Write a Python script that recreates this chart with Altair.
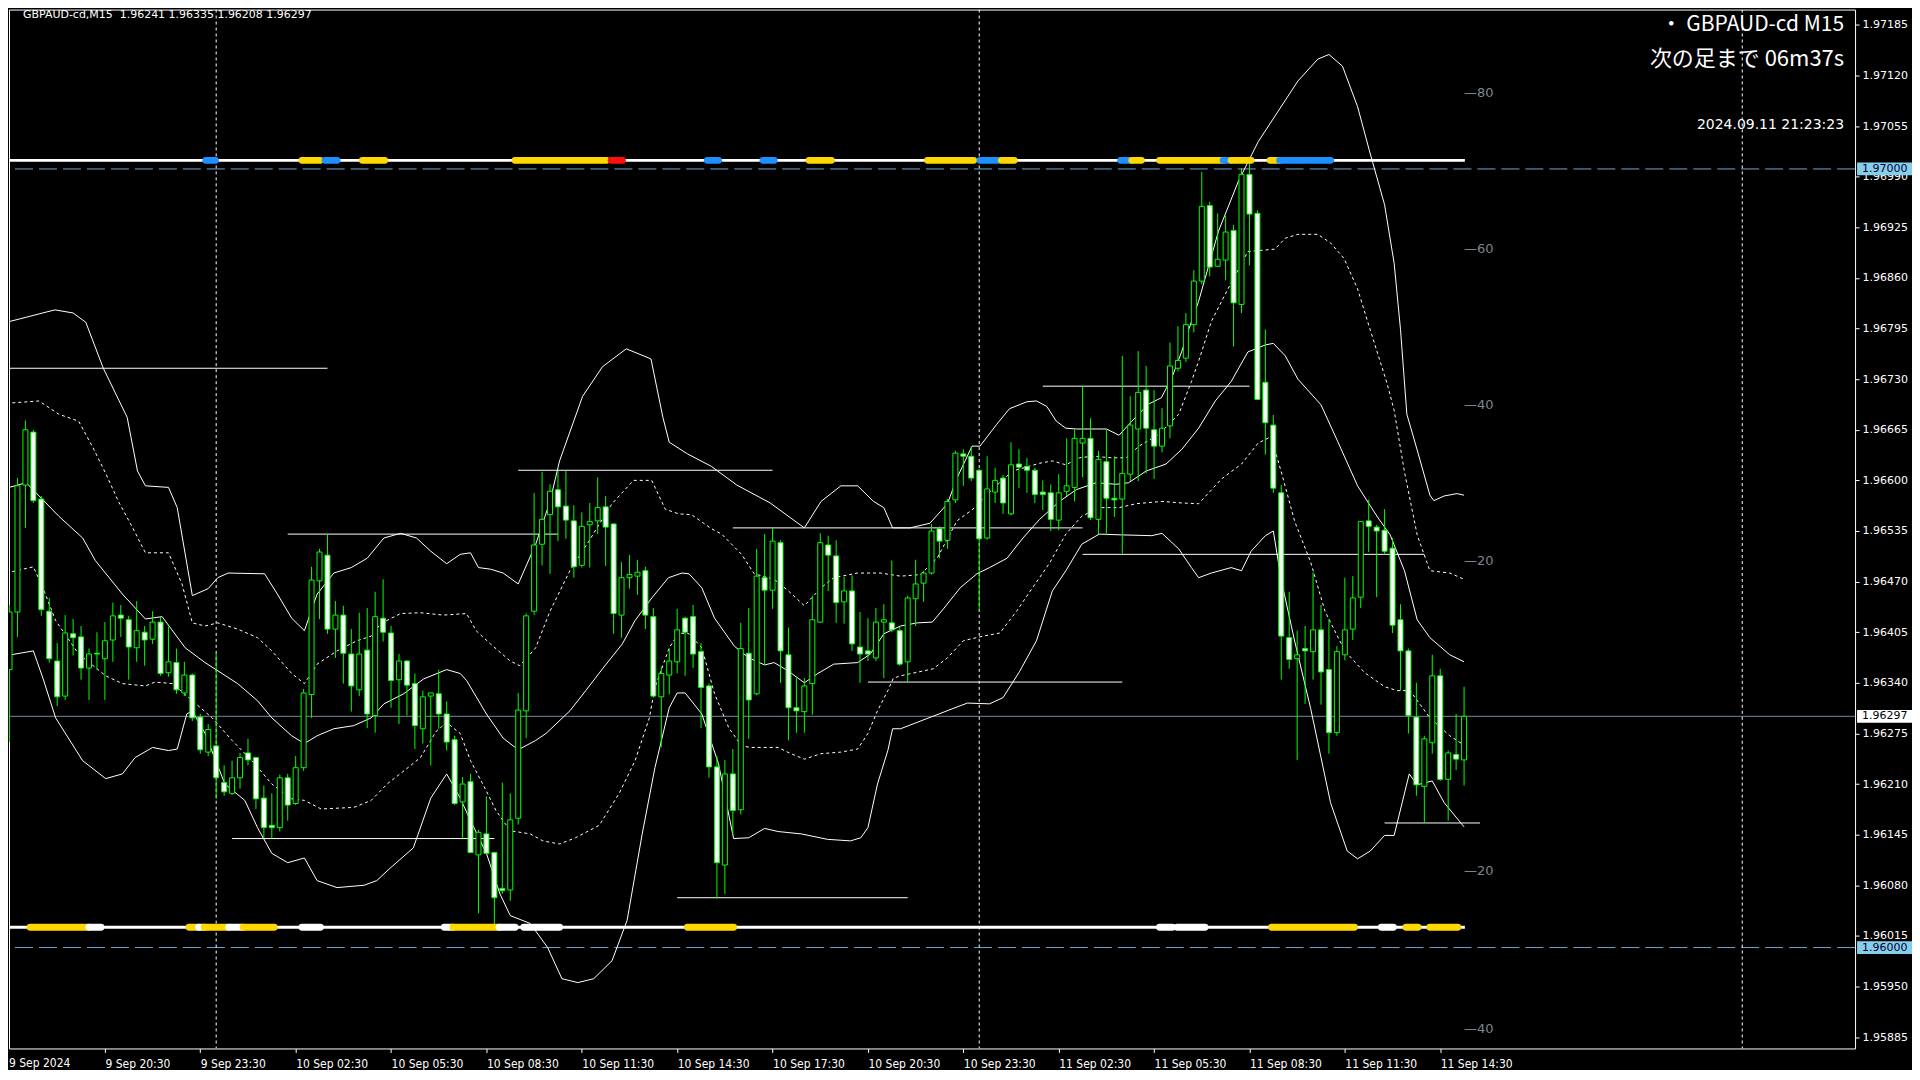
import altair as alt
import pandas as pd

BASE = 1.96000   # prices below are in points (0.00001) above 1.96000
PT = 0.00001

# ---- candles (M15, bar 0 = 9 Sep 17:30) ----
open_pts = [357,431,594,662,576,432,368,323,403,399, 359,378,371,395,427,421,385,405,396,418,
            353,366,327,350,296,251,259,212,198,218, 250,244,192,157,154,218,185,231,325,471,
            504,409,427,377,331,382,298,423,404,344, 368,339,281,323,326,300,267,187,213,119,
            146,122,76,74,166,304,432,518,556,588, 567,548,491,543,548,566,544,427,475,477,
            484,425,322,350,367,423,425,380,336,232, 106,223,177,378,326,475,459,520,376,308,
            303,339,418,517,503,444,458,386,381,372, 418,417,407,367,448,468,481,538,523,575,
            634,631,613,526,585,603,557,621,618,613, 585,584,549,586,591,648,654,550,624,577,
            576,608,666,716,665,644,670,744,757,800, 856,953,875,883,921,826,993,943,726,671,
            584,398,371,384,380,408,357,276,376,409, 450,548,540,536,513,421,381,296,207,263,
            349,216,248,241]
high_pts = [440,603,677,665,580,449,391,427,422,413, 384,405,418,443,440,426,445,413,432,425,
            412,384,367,352,300,287,378,234,240,250, 268,245,208,198,222,223,246,332,489,512,
            531,445,439,409,430,436,457,473,413,377, 369,352,330,327,357,316,272,219,223,151,
            194,123,212,198,327,429,584,611,595,612, 612,568,559,571,604,580,545,495,504,498,
            489,436,361,384,435,425,440,391,339,246, 241,255,417,436,512,531,539,523,411,346,
            346,452,532,529,523,476,478,431,423,436, 441,497,412,452,498,484,544,541,576,638,
            640,644,615,631,616,607,649,640,629,616, 600,595,608,654,665,721,680,638,665,631,
            760,708,766,747,716,693,777,798,815,870, 996,958,943,940,928,1001,1011,947,794,684,
            594,457,407,413,482,440,422,387,475,477, 547,575,543,563,526,441,384,340,272,376,
            358,253,300,335]
low_pts = [264,399,539,571,426,366,310,318,375,344, 318,357,318,367,399,344,367,362,390,349,
           348,326,323,291,249,246,191,195,196,204, 234,178,141,140,149,163,183,227,295,422,
           403,372,339,303,323,282,276,393,308,287, 298,255,262,234,281,253,183,140,121,44,
           120,26,69,60,158,269,427,491,480,522, 525,475,488,488,531,490,403,398,461,453,
           409,321,257,325,352,349,359,282,218,63, 69,144,171,268,324,363,435,340,266,276,
           276,299,417,458,417,416,381,340,368,368, 346,405,362,341,413,444,479,500,512,571,
           593,599,432,524,571,557,555,590,584,571, 562,535,536,580,573,604,549,531,530,553,
           506,599,599,609,602,636,654,740,752,790, 852,862,874,857,772,815,876,703,633,584,
           344,358,241,313,344,312,249,272,369,395, 436,508,450,506,404,330,275,195,160,249,
           214,163,228,208]
close_pts = [431,593,665,574,434,371,322,404,398,359, 377,377,394,426,423,386,407,395,418,352,
             367,331,350,295,254,280,218,200,218,244, 241,191,154,154,218,183,231,327,472,508,
             409,427,378,336,377,300,425,405,343,368, 337,285,322,327,300,264,185,210,122,148,
             121,64,73,164,305,426,517,550,586,566, 549,489,541,547,565,540,429,475,479,482,
             427,323,352,368,408,405,377,334,232,109, 223,176,384,318,477,459,522,381,308,304,
             336,421,520,504,443,458,390,377,377,418, 421,408,364,449,467,481,535,522,573,635,
             631,603,525,589,600,571,620,617,613,582, 582,550,584,593,654,654,552,627,577,575,
             609,671,713,667,644,667,747,754,800,856, 952,874,884,919,828,993,942,704,674,590,
             400,370,376,381,408,354,276,380,408,449, 547,541,535,509,414,381,298,209,268,349,
             216,250,242,297]

# ---- Bollinger-type band lines: (bar, points) ----
mid_line = [(-0.4,590),(2.1,597),(6.2,554),(9.2,526),(10.8,497),(14.2,454),(17.1,422),(19.2,425),
    (22.1,385),(24.6,366),(28.7,339),(31.2,317),(33,295),(35.5,272),(37.1,262),(38.7,272),(40.8,281),
    (43.3,285),(45.5,295),(47.1,313),(49.6,326),(52.1,345),(55,357),(56.7,352),(57.5,343),(60,300),
    (62.1,269),(64,254),(66.2,266),(67.5,275),(70.5,304),(72.5,330),(74.6,358),(77.1,390),(78.7,420),
    (80.8,449),(82.9,475),(84.6,481),(85.5,480),(87.1,462),(88.7,423),(91.2,387),(93,372),(95,363),
    (96.2,366),(98,355),(100,340),(101.7,352),(103.7,364),(106.7,366),(108.3,377),(110,403),(112.1,413),
    (114.2,417),(116.1,418),(117.5,435),(119.6,462),(121.7,480),(123.3,488),(125.5,500),(127.5,526),
    (129.6,550),(132.1,573),(134.2,588),(136.7,597),(139.2,595),(140.8,597),(143,612),(145.5,621),
    (147.5,640),(149.6,667),(151.7,702),(153.7,727),(155.8,765),(158,774),(159,776),(160.5,760),
    (162.1,730),(165,697),(167.1,650),(169.6,593),(172.1,553),(173.7,530),(175.5,484),(177.1,421),
    (178.7,398),(181.2,376),(183,367)]
upper1_line = [(-0.4,699),(3.7,702),(6.2,685),(8.7,676),(10.5,642),(12.1,609),(13.7,573),(15.5,539),
    (17.1,507),(20,507),(21.7,467),(23,417),(24.6,413),(26.2,417),(28.7,409),(31.2,398),(33,381),
    (35.5,352),(37.1,339),(38.7,364),(41.2,381),(43.7,394),(45.5,400),(46.7,416),(49.2,429),(51.7,430),
    (54.6,427),(57.5,429),(58.7,407),(60.5,390),(63,368),(64.2,362),(66.2,385),(68,432),(70.5,484),
    (72.9,522),(74.2,544),(75.8,570),(78.5,600),(80.8,600),(82.5,563),(84.2,557),(85.8,556),(88.3,538),
    (89.6,531),(92.1,505),(93.7,480),(96.2,473),(98,458),(100,439),(102.1,462),(103.7,475),(106.7,481),
    (109.6,481),(112.1,477),(114.6,479),(116.7,500),(119.2,548),(121.2,563),(123.7,589),(126.2,612),
    (129.6,622),(131.2,625),(132.9,620),(134.6,629),(136.2,631),(138.7,629),(140.5,629),(142.1,644),
    (144.6,659),(147.1,685),(148.7,727),(149.6,753),(151.2,804),(153.3,846),(155.8,894),(159.2,897),
    (160.5,911),(162.1,916),(164.6,916),(166.2,905),(167.9,885),(169.6,846),(171.2,793),(173.3,725),
    (174.2,690),(175.5,611),(177.1,530),(178.7,484),(181.2,481),(183,473)]
lower1_line = [(-0.4,481),(3,489),(4.2,462),(5.8,420),(8.7,377),(12.1,349),(14.2,339),(17.1,336),
    (18.3,341),(20.5,339),(23,317),(25.5,295),(28,266),(30.5,240),(33,210),(35.5,191),(37.1,189),
    (39.2,178),(43.3,180),(45.5,189),(47.5,210),(50,230),(51.7,244),(53.7,278),(55,289),(56.7,275),
    (58,240),(60,201),(61.2,176),(63,150),(65.5,146),(67.1,137),(69.2,133),(71.2,141),(74.2,157),
    (76.7,198),(78.7,240),(80.5,295),(81.2,334),(83,385),(84.2,404),(85.5,403),(87.1,385),(88.7,326),
    (90.5,282),(92.1,259),(93.3,257),(96.7,257),(98.3,249),(100,242),(102.1,249),(104.6,251),(106.7,255),
    (108,275),(109.2,304),(110.5,330),(111.2,346),(112.1,349),(116.2,358),(118,372),(120,394),
    (122.5,400),(124.6,404),(126.7,432),(128.7,462),(130.8,493),(132.9,531),(134.9,554),(137.1,565),
    (139.6,565),(141.7,570),(145,573),(147.5,571),(149.6,570),(152.5,602),(155,621),(157.1,648),
    (158.7,656),(160,611),(161.7,547),(163.7,495),(165.5,432),(168,381),(170.5,353),(173,335),
    (174.6,330),(176.2,330),(178.7,295),(181.2,272),(183,260)]
upper2_line = [(-0.4,803),(5.7,819),(8,815),(9.6,803),(11.8,744),(14.8,681),(16.1,612),(17.1,593),
    (20,591),(21.1,565),(23,452),(25,461),(26.2,475),(27.5,481),(32.1,480),(33.7,454),(35.5,423),
    (37.1,407),(38.7,454),(40.8,481),(43,488),(45,500),(47.1,526),(49.2,532),(51.2,526),(53,509),
    (55,493),(56.7,505),(58,507),(59,488),(60.5,486),(62.1,481),(64,467),(66.2,518),(68,573),(69.2,625),
    (72.1,708),(74.6,746),(77.6,769),(80.7,756),(82.2,681),(83,649),(85.3,634),(88.3,618),(91.5,594),
    (95.7,571),(100,539),(102.1,573),(104.6,593),(106.7,593),(108.7,573),(110,565),(111.1,539),
    (113.3,539),(115.8,545),(118,570),(119.2,603),(121.1,644),(122.1,644),(124.2,672),(125.8,692),
    (128,701),(129.2,702),(130.5,695),(131.7,676),(132.9,667),(134.2,666),(138,666),(139.6,658),
    (141.2,676),(143.3,698),(144.9,706),(146.2,731),(147.5,766),(148.3,792),(149.6,830),(152.1,920),
    (154.6,984),(157.1,1035),(159.6,1074),(162.1,1113),(164.6,1141),(166,1147),(167.7,1132),
    (169.6,1080),(171.1,1023),(173,954),(174.2,879),(175,794),(175.8,685),(177.1,639),(178.7,581),
    (179.2,574),(180.5,580),(182.1,583),(183,581)]
lower2_line = [(-0.4,375),(3,381),(4.2,346),(5.8,295),(9.2,240),(12.1,217),(14.2,223),(15.8,244),
    (18,257),(20,253),(21.1,255),(22.3,300),(23,304),(24.6,275),(27.1,210),(29.6,189),(31.2,154),
    (33,121),(35,109),(37.1,115),(38.7,86),(41.2,77),(44.6,80),(46.2,86),(48,103),(50.8,128),(53,192),
    (55,223),(56.7,192),(58,163),(60,121),(61.7,69),(63,41),(65.5,31),(67.7,0),(69.5,-40),(71.5,-45),
    (73.5,-40),(75.8,-17),(77.7,35),(79.6,146),(81.2,231),(83,308),(84,327),(85,327),(87.1,300),
    (89.2,236),(91.1,140),(93,141),(95,153),(96.7,149),(99.6,146),(102.9,139),(105.8,137),(107.1,141),
    (108,154),(109.2,210),(110.5,253),(111.1,281),(112.1,281),(118.7,307),(120.5,314),(123.3,313),
    (125,321),(127.1,355),(129.2,394),(131.2,458),(132.9,484),(134.9,518),(137.1,531),(139.9,530),
    (143.7,529),(145,532),(147.1,512),(148.7,488),(149.6,475),(151.2,481),(153.7,488),(155,484),
    (156.2,509),(158,529),(159,535),(160,472),(161.7,393),(163.7,307),(166.2,186),(168.3,124),
    (169.6,114),(171.2,124),(173,144),(174.2,144),(176.1,223),(177.1,209),(179,214),(180.5,186),(183,155)]

# ---- horizontal level segments: (start bar, end bar, points) ----
level_lines = [(-1,40,744),(64,96,613),(35,69,531),(91,135,539),(130,156,721),
               (135,178,505),(108,140,341),(28,61,140),(84,113,64),(173,185,160)]

# ---- signal strips ----
strip_top_pts = 1011
strip_bottom_pts = 26
strip_extent = (-1, 183.1)
top_segments = [("#1E90FF",24.7,25.9),("#FFD700",36.8,39.1),("#1E90FF",39.7,41.2),("#FFD700",44.4,47.2),
    ("#FFD700",63.6,75.1),("#FF1010",75.7,77.1),("#1E90FF",87.8,89.2),("#1E90FF",94.8,96.2),
    ("#FFD700",100.6,103.4),("#FFD700",115.5,121.3),("#1E90FF",122.1,124.4),("#FFD700",124.8,126.4),
    ("#1E90FF",139.8,141.2),("#FFD700",141.2,142.4),("#FFD700",144.7,152.7),("#1E90FF",152.7,153.7),
    ("#FFD700",153.7,156.2),("#FFD700",158.6,159.8),("#1E90FF",159.8,163.3),("#1E90FF",163.7,166.2)]
bottom_segments = [("#FFD700",2.6,10),("#FFFFFF",10,11.5),("#FFD700",22.6,23.8),("#FFFFFF",23.8,24.5),
    ("#FFD700",24.5,27.6),("#FFFFFF",27.6,29.4),("#FFD700",29.4,33.3),("#FFFFFF",36.8,39.1),
    ("#FFFFFF",54.7,55.8),("#FFD700",55.8,61.6),("#FFFFFF",61.6,63.6),("#FFFFFF",64.7,69.2),
    ("#FFD700",85.3,91.1),("#FFFFFF",144.7,146.3),("#FFFFFF",146.9,150.4),("#FFD700",158.8,169.2),
    ("#FFFFFF",172.6,174.1),("#FFD700",175.7,177.2),("#FFD700",178.7,182.2)]

# ---- oscillator scale labels ----
osc_labels = ["\u201480", "\u201460", "\u201440", "\u201420", "\u201420", "\u201440"]
osc_label_pts = [1097, 897, 697, 497, 98, -104]
osc_label_bar = 183

# ---- axes ----
first_time_label = "9 Sep 2024"
time_tick_bars = [12,24,36,48,60,72,84,96,108,120,132,144,156,168,180]
time_tick_labels = ["9 Sep 20:30","9 Sep 23:30","10 Sep 02:30","10 Sep 05:30",
                    "10 Sep 08:30","10 Sep 11:30","10 Sep 14:30","10 Sep 17:30","10 Sep 20:30",
                    "10 Sep 23:30","11 Sep 02:30","11 Sep 05:30","11 Sep 08:30","11 Sep 11:30",
                    "11 Sep 14:30"]
price_ticks = [1.95885,1.95950,1.96015,1.96080,1.96145,1.96210,1.96275,1.96340,1.96405,1.96470,
               1.96535,1.96600,1.96665,1.96730,1.96795,1.96860,1.96925,1.96990,1.97055,1.97120,1.97185]
day_separators = [26, 122, 218]
round_levels = [1.97000, 1.96000]
current_price = 1.96297
price_tags = [("1.97000", 1.97000, "#87CEEB", "#000033"),
              ("1.96297", 1.96297, "#FFFFFF", "#000000"),
              ("1.96000", 1.96000, "#87CEEB", "#000033")]

title_text = "GBPAUD-cd,M15\u00a0\u00a01.96241 1.96335 1.96208 1.96297"
symbol_text = "\u30fb GBPAUD-cd M15"
timer_text = "次の足まで 06m37s"
clock_text = "2024.09.11 21:23:23"

FONT = "'DejaVu Sans', sans-serif"
NFONT = "'DejaVu Sans Condensed', 'DejaVu Sans', sans-serif"
JFONT = "'Noto Sans CJK JP', sans-serif"
GREEN = "#00FF00"


def price(v):
    return round(BASE + v * PT, 5)


W, H = 1848, 1040
xs = alt.Scale(domain=[0.5625, 231.5625], nice=False, zero=False)
ys = alt.Scale(domain=[1.958704, 1.972047], nice=False, zero=False)

n = len(open_pts)
candles = pd.DataFrame({
    "bar": list(range(n)),
    "open": [price(v) for v in open_pts],
    "high": [price(v) for v in high_pts],
    "low": [price(v) for v in low_pts],
    "close": [price(v) for v in close_pts],
    "fillc": ["#000000" if c >= o else "#FFFFFF" for o, c in zip(open_pts, close_pts)],
})


def band_df(pairs, name):
    return pd.DataFrame({"bar": [p[0] for p in pairs],
                         "price": [price(p[1]) for p in pairs],
                         "band": name})


solid_bands = pd.concat([band_df(mid_line, "mid"), band_df(upper2_line, "up2"),
                         band_df(lower2_line, "lo2")])
dotted_bands = pd.concat([band_df(upper1_line, "up1"), band_df(lower1_line, "lo1")])

levels = pd.DataFrame({"s": [l[0] for l in level_lines], "e": [l[1] for l in level_lines],
                       "price": [price(l[2]) for l in level_lines]})
strips = pd.DataFrame({"s": [strip_extent[0]] * 2, "e": [strip_extent[1]] * 2,
                       "price": [price(strip_top_pts), price(strip_bottom_pts)]})
segs = pd.DataFrame(
    [{"s": s, "e": e, "col": c, "price": price(strip_top_pts)} for c, s, e in top_segments] +
    [{"s": s, "e": e, "col": c, "price": price(strip_bottom_pts)} for c, s, e in bottom_segments])
osc = pd.DataFrame({"bar": [osc_label_bar] * len(osc_labels), "price": [price(v) for v in osc_label_pts],
                    "t": osc_labels})

label_expr = "[" + ",".join("'%s'" % s for s in time_tick_labels) + "][round(datum.value / 12) - 1]"

x_axis = alt.Axis(orient="bottom", values=time_tick_bars, labelExpr=label_expr, labelAlign="left",
                  labelFlush=False, labelOverlap=False, tickSize=4, tickColor="#FFFFFF",
                  labelColor="#FFFFFF", labelFont=NFONT, labelFontSize=12, labelPadding=6,
                  labelBaseline="top", domain=False, grid=False, title=None)
y_axis = alt.Axis(orient="right", values=price_ticks, format=".5f", tickSize=4, tickColor="#FFFFFF",
                  labelColor="#FFFFFF", labelFont=FONT, labelFontSize=11, labelPadding=3,
                  labelOverlap=False, domain=False, grid=False, title=None)


def X(field):
    return alt.X(field, scale=xs, axis=x_axis)


def Y(field):
    return alt.Y(field, scale=ys, axis=y_axis)


layers = []

# round-number dashed levels & current price
layers.append(alt.Chart(pd.DataFrame({"price": round_levels})).mark_rule(
    color="#6FA8D2", strokeWidth=1, strokeDash=[18, 6]).encode(y=Y("price:Q")))
layers.append(alt.Chart(pd.DataFrame({"price": [current_price]})).mark_rule(
    color="#778899", strokeWidth=1).encode(y=Y("price:Q")))
# day separators
layers.append(alt.Chart(pd.DataFrame({"bar": day_separators})).mark_rule(
    color="#FFFFFF", strokeWidth=1, strokeDash=[3, 3], clip=True).encode(x=X("bar:Q")))
# level segments
layers.append(alt.Chart(levels).mark_rule(color="#FFFFFF", strokeWidth=1, clip=True).encode(
    x=X("s:Q"), x2="e:Q", y=Y("price:Q")))
# bands
layers.append(alt.Chart(solid_bands).mark_line(color="#FFFFFF", strokeWidth=1, clip=True).encode(
    x=X("bar:Q"), y=Y("price:Q"), detail="band:N"))
layers.append(alt.Chart(dotted_bands).mark_line(color="#FFFFFF", strokeWidth=1, strokeDash=[3, 3],
                                                clip=True).encode(
    x=X("bar:Q"), y=Y("price:Q"), detail="band:N"))
# candles
layers.append(alt.Chart(candles).mark_rule(color=GREEN, strokeWidth=1, clip=True).encode(
    x=X("bar:Q"), y=Y("low:Q"), y2="high:Q"))
layers.append(alt.Chart(candles).mark_bar(size=5, stroke=GREEN, strokeWidth=1, clip=True).encode(
    x=X("bar:Q"), y=Y("open:Q"), y2="close:Q", fill=alt.Fill("fillc:N", scale=None)))
# strips
layers.append(alt.Chart(strips).mark_rule(color="#FFFFFF", strokeWidth=3, clip=True).encode(
    x=X("s:Q"), x2="e:Q", y=Y("price:Q")))
layers.append(alt.Chart(segs).mark_rule(strokeWidth=7, strokeCap="round", clip=True).encode(
    x=X("s:Q"), x2="e:Q", y=Y("price:Q"), color=alt.Color("col:N", scale=None)))
# oscillator labels
layers.append(alt.Chart(osc).mark_text(align="left", baseline="middle", color="#7F8590",
                                       font=FONT, fontSize=13).encode(
    x=X("bar:Q"), y=Y("price:Q"), text="t:N"))
# price tags on the axis
tags = pd.DataFrame({"label": [t[0] for t in price_tags], "price": [t[1] for t in price_tags],
                     "bg": [t[2] for t in price_tags], "fg": [t[3] for t in price_tags]})
tags["top"] = tags["price"] + 0.000082
tags["bot"] = tags["price"] - 0.000082
layers.append(alt.Chart(tags).mark_rect().encode(
    x=alt.value(W + 2), x2=alt.value(W + 57), y=Y("top:Q"), y2="bot:Q",
    fill=alt.Fill("bg:N", scale=None)))
layers.append(alt.Chart(tags).mark_text(align="left", baseline="middle", font=FONT, fontSize=11).encode(
    x=alt.value(W + 7), y=Y("price:Q"), text="label:N", color=alt.Color("fg:N", scale=None)))
# first time label (bar 0 lies just left of the plot edge)
layers.append(alt.Chart(pd.DataFrame({"t": [first_time_label]})).mark_text(
    align="left", baseline="top", color="#FFFFFF", font=NFONT, fontSize=12).encode(
    x=alt.value(0), y=alt.value(H + 10), text="t:N"))
# texts
layers.append(alt.Chart(pd.DataFrame({"t": [title_text]})).mark_text(
    align="left", baseline="middle", color="#FFFFFF", font=FONT, fontSize=11).encode(
    x=alt.value(14), y=alt.value(5), text="t:N"))
layers.append(alt.Chart(pd.DataFrame({"t": [symbol_text]})).mark_text(
    align="right", baseline="middle", color="#FFFFFF", font=JFONT, fontSize=21).encode(
    x=alt.value(1837), y=alt.value(15), text="t:N"))
layers.append(alt.Chart(pd.DataFrame({"t": [timer_text]})).mark_text(
    align="right", baseline="middle", color="#FFFFFF", font=JFONT, fontSize=22).encode(
    x=alt.value(1837), y=alt.value(50), text="t:N"))
layers.append(alt.Chart(pd.DataFrame({"t": [clock_text]})).mark_text(
    align="right", baseline="middle", color="#FFFFFF", font=FONT, fontSize=14).encode(
    x=alt.value(1837), y=alt.value(116), text="t:N"))

chart = alt.layer(*layers).properties(
    width=W, height=H, padding=0, background="#000000"
).configure_view(stroke="#FFFFFF", strokeWidth=1)

chart.save("out.html", embed_options={"renderer": "svg", "actions": False})
